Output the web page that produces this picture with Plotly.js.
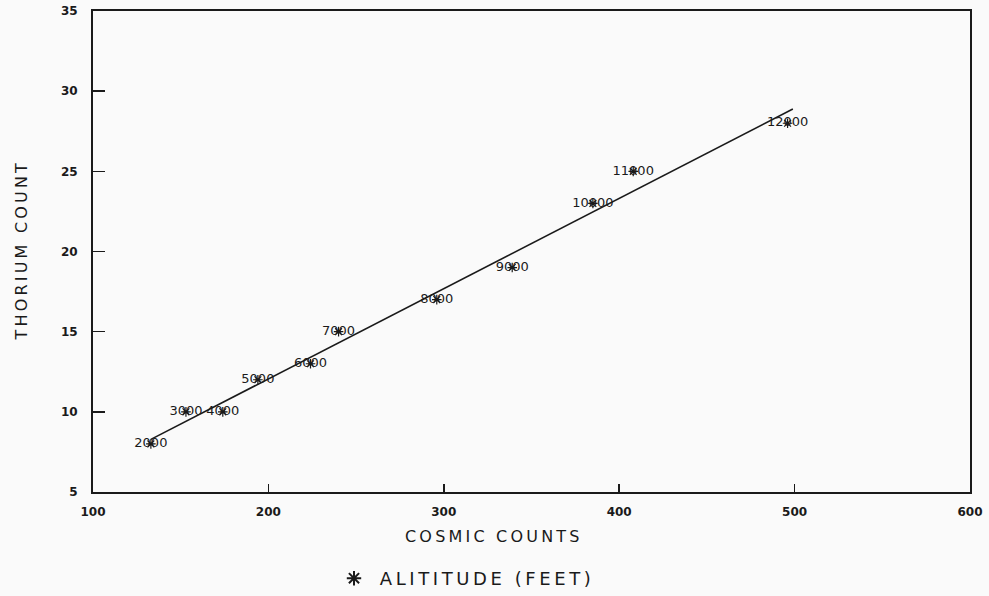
<!DOCTYPE html>
<html>
<head>
<meta charset="utf-8">
<script src="https://cdn.plot.ly/plotly-3.0.1.min.js"></script>
<style>html,body{margin:0;padding:0;background:#fafafa;}#chart{width:989px;height:596px;}</style>
</head>
<body>
<div id="chart"></div>
<script>
// Data
const cosmicCounts = [133, 153, 174, 194, 224, 240, 296, 339, 385, 408, 496];
const thoriumCounts = [8, 10, 10, 12, 13, 15, 17, 19, 23, 25, 28];
const altitudeLabels = ["2000", "3000", "4000", "5000", "6000", "7000", "8000", "9000", "10000", "11000", "12000"];
const xTicks = [100, 200, 300, 400, 500, 600];
const yTicks = [5, 10, 15, 20, 25, 30, 35];
const xTitle = "COSMIC COUNTS";
const yTitle = "THORIUM COUNT";
const seriesName = "ALITITUDE (FEET)";

// spread letters a little, like the plotter lettering
const spread = s => s.split('').join('\u2009');

// least-squares fit line through the data
const n = cosmicCounts.length;
const mx = cosmicCounts.reduce((a, b) => a + b, 0) / n;
const my = thoriumCounts.reduce((a, b) => a + b, 0) / n;
let sxy = 0, sxx = 0;
for (let i = 0; i < n; i++) {
  sxy += (cosmicCounts[i] - mx) * (thoriumCounts[i] - my);
  sxx += (cosmicCounts[i] - mx) ** 2;
}
const slope = sxy / sxx;
const intercept = my - slope * mx;
const fitX = [Math.min(...cosmicCounts), Math.max(...cosmicCounts) + 3];
const fitY = fitX.map(x => intercept + slope * x);

const ink = '#1a1a1a';

const traces = [
  {
    x: fitX, y: fitY, mode: 'lines', type: 'scatter',
    line: {color: ink, width: 1.6}, showlegend: false, hoverinfo: 'skip'
  },
  {
    x: cosmicCounts, y: thoriumCounts, mode: 'markers+text', type: 'scatter',
    name: '\u00a0' + spread(seriesName),
    text: altitudeLabels, textposition: 'middle center',
    textfont: {family: 'DejaVu Sans', size: 13, color: ink},
    marker: {symbol: 'asterisk-open', size: 8, color: ink, line: {color: ink, width: 1.2}},
    showlegend: true
  }
];

const layout = {
  width: 989, height: 596,
  margin: {l: 93, r: 19, t: 11, b: 104, autoexpand: false},
  paper_bgcolor: '#fafafa', plot_bgcolor: '#fafafa',
  font: {family: 'DejaVu Sans', color: ink},
  xaxis: {
    range: [100, 600], tickvals: xTicks, ticktext: xTicks.map(String),
    ticks: 'inside', ticklen: 8, tickwidth: 1.5, tickcolor: ink,
    showline: true, linecolor: ink, linewidth: 2, mirror: true,
    showgrid: false, zeroline: false,
    tickfont: {family: 'DejaVu Sans', size: 12, color: ink, weight: 'bold'},
    ticklabelstandoff: 8
  },
  yaxis: {
    range: [5, 35], tickvals: yTicks, ticktext: yTicks.map(String),
    ticks: 'inside', ticklen: 12, tickwidth: 1.5, tickcolor: ink,
    showline: true, linecolor: ink, linewidth: 2, mirror: true,
    showgrid: false, zeroline: false,
    tickfont: {family: 'DejaVu Sans', size: 12, color: ink, weight: 'bold'},
    ticklabelstandoff: 11
  },
  annotations: [
    {
      text: spread(xTitle), xref: 'paper', yref: 'paper',
      x: (492 - 93) / 877, y: -(536 - 492) / 481, xanchor: 'center', yanchor: 'middle',
      showarrow: false, font: {family: 'DejaVu Sans', size: 16, color: ink}
    },
    {
      text: spread(yTitle), xref: 'paper', yref: 'paper',
      x: -(93 - 21) / 877, y: 0.5, xanchor: 'center', yanchor: 'middle', textangle: -90,
      showarrow: false, font: {family: 'DejaVu Sans', size: 16, color: ink}
    }
  ],
  legend: {
    x: (334 - 93) / 877, xanchor: 'left', y: -(560 - 492) / 481, yanchor: 'top',
    font: {family: 'DejaVu Sans', size: 18, color: ink},
    bgcolor: 'rgba(0,0,0,0)', itemsizing: 'constant', itemwidth: 30
  },
  showlegend: true
};

Plotly.newPlot('chart', traces, layout, {displayModeBar: false, staticPlot: true});
</script>
</body>
</html>
